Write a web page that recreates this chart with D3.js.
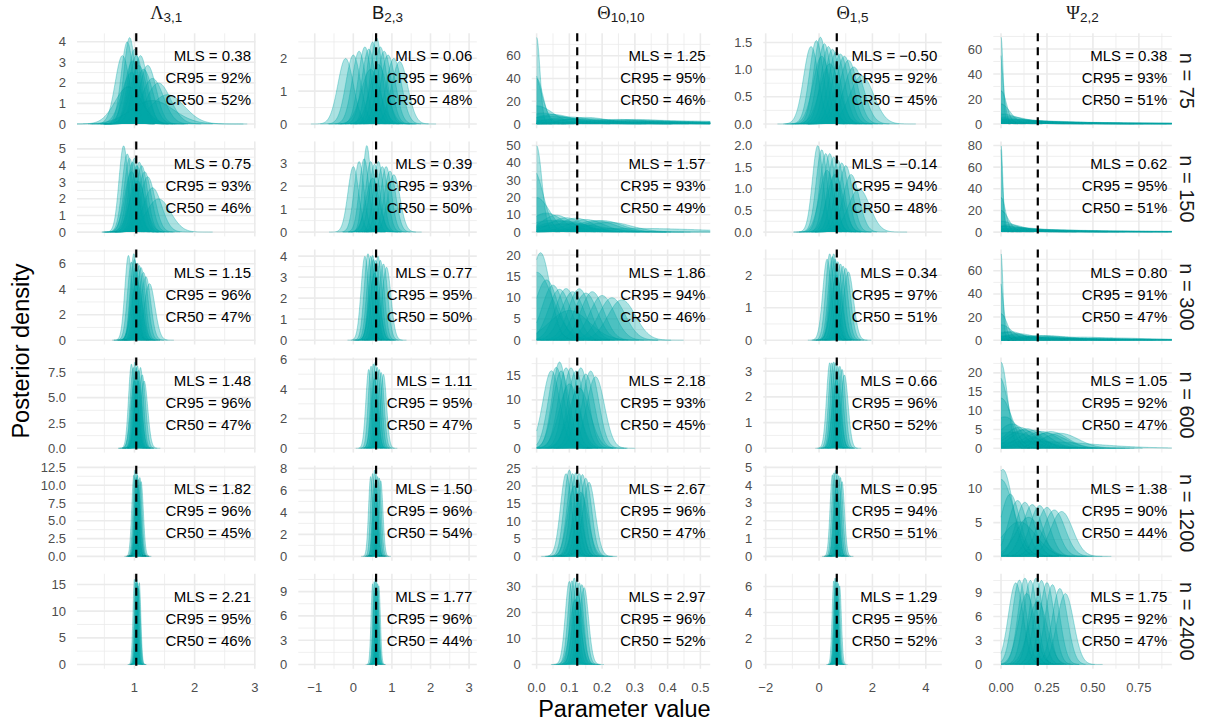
<!DOCTYPE html>
<html>
<head>
<meta charset="utf-8">
<script src="https://cdn.jsdelivr.net/npm/d3@7"></script>
<style>
body { margin: 0; background: #fff; }
text { font-family: "Liberation Sans", Arial, sans-serif; }
</style>
</head>
<body>
<script>
// columns = parameters, rows = sample sizes
const paramNames = ["Λ", "B", "Θ", "Θ", "Ψ"];
const paramSubs = ["3,1", "2,3", "10,10", "1,5", "2,2"];
const greekParam = [true, false, true, true, true];
const sampleSizes = [75, 150, 300, 600, 1200, 2400];
const trueValues = [1.03, 0.59, 0.124, 0.664, 0.2];
const lowerBounds = [null, null, 0, null, 0];

// x scales per column
const xDomains = [[0.045, 3.012], [-1.426, 3.2], [-0.015, 0.53], [-2.09, 4.6], [-0.042, 0.929]];
const xTickLabels = [
	["1", "2", "3"],
	["-1", "0", "1", "2", "3"],
	["0.0", "0.1", "0.2", "0.3", "0.4", "0.5"],
	["-2", "0", "2", "4"],
	["0.00", "0.25", "0.50", "0.75"]
];

// highest density in each panel (row x column)
const yMax = [
	[4.2, 2.63, 75.9, 1.59, 69.1],
	[5.19, 3.76, 49.9, 1.995, 79.8],
	[6.78, 4.11, 20.3, 2.66, 74.7],
	[8.53, 5.83, 17.85, 3.36, 22.9],
	[12.13, 7.85, 24.5, 4.85, 12.8],
	[16.2, 10.67, 33.2, 6.65, 10.8]
];
const yTickLabels = [
	[["0","1","2","3","4"], ["0","1","2"], ["0","20","40","60"], ["0.0","0.5","1.0","1.5"], ["0","20","40","60"]],
	[["0","1","2","3","4","5"], ["0","1","2","3"], ["0","10","20","30","40","50"], ["0.0","0.5","1.0","1.5","2.0"], ["0","20","40","60","80"]],
	[["0","2","4","6"], ["0","1","2","3","4"], ["0","5","10","15","20"], ["0","1","2"], ["0","20","40","60"]],
	[["0.0","2.5","5.0","7.5"], ["0","2","4","6"], ["0","5","10","15"], ["0","1","2","3"], ["0","5","10","15","20"]],
	[["0.0","2.5","5.0","7.5","10.0","12.5"], ["0","2","4","6","8"], ["0","5","10","15","20","25"], ["0","1","2","3","4","5"], ["0","5","10"]],
	[["0","5","10","15"], ["0","3","6","9"], ["0","10","20","30"], ["0","2","4","6"], ["0","3","6","9"]]
];

// summary statistics
const mls = [
	[0.38, 0.06, 1.25, -0.50, 0.38],
	[0.75, 0.39, 1.57, -0.14, 0.62],
	[1.15, 0.77, 1.86, 0.34, 0.80],
	[1.48, 1.11, 2.18, 0.66, 1.05],
	[1.82, 1.50, 2.67, 0.95, 1.38],
	[2.21, 1.77, 2.97, 1.29, 1.75]
];
const cr95 = [
	[92, 96, 95, 92, 93],
	[93, 93, 93, 94, 95],
	[96, 95, 94, 97, 91],
	[96, 95, 93, 96, 92],
	[96, 96, 96, 94, 90],
	[95, 96, 96, 95, 92]
];
const cr50 = [
	[52, 48, 46, 45, 51],
	[46, 50, 49, 48, 51],
	[47, 50, 46, 51, 47],
	[47, 47, 45, 52, 47],
	[45, 54, 47, 51, 44],
	[46, 44, 52, 52, 47]
];

// posterior location / spread of the replications drawn in each panel
const postMeans = [
	[[0.80,0.88,0.92,0.97,1.00,1.03,1.07,1.10,1.15,1.22,1.30,1.40,1.55,0.95,0.90,1.30],
	 [-0.20,0.00,0.15,0.30,0.40,0.50,0.60,0.70,0.80,0.90,1.05,1.20,0.45,0.65],
	 [0,-0.02,0,0,0.02,0.05,0.10,0.15,0.22,0.30,0.40,0.55,0.70,0.25,0.35,0.45,0.60,0.10,0.05,0.15,0.30],
	 [-0.30,-0.10,0.05,0.20,0.35,0.50,0.65,0.80,0.95,1.10,1.30,1.60,0.40,0.10],
	 [0,-0.02,0,0,0,0.05,0.10,0.20,0.30,0.40,0.60,0,0.80,0.15,0.35,0.10,0.05,0.25]],
	[[0.82,0.88,0.92,0.97,1.00,1.04,1.08,1.12,1.17,1.22,1.30,1.05,0.95,1.40],
	 [0.00,0.15,0.28,0.35,0.45,0.55,0.65,0.75,0.85,0.95,1.05,0.50],
	 [0,-0.01,0,0.03,0.06,0.09,0.12,0.15,0.18,0.22,0.10,0.30,0.05,0.20,0.08],
	 [-0.05,0.10,0.25,0.40,0.55,0.70,0.85,1.00,1.20,1.50,0.30,0.60],
	 [0,-0.02,0,0,0,0.04,0.10,0.20,0.30,0.45,0.60,0,0.80,0.15,0.35,0.10,0.05,0.25]],
	[[0.90,0.95,0.99,1.02,1.05,1.08,1.11,1.15,1.19,1.00,1.04,1.25],
	 [0.30,0.38,0.45,0.52,0.58,0.64,0.70,0.78,0.86,0.55,0.50],
	 [0.012,0.03,0.05,0.07,0.09,0.11,0.13,0.15,0.17,0.20,0.23,0.26,0.10,0],
	 [0.30,0.40,0.50,0.60,0.70,0.80,0.90,1.00,1.10,0.65,0.55],
	 [0,-0.015,0,0,0.02,0.08,0.15,0.22,0.30,0.40,0.55,0.70,0,0.10,0.20,0.30,0.45,0.60,0.05,0.25]],
	[[0.95,0.98,1.01,1.03,1.05,1.07,1.10,1.13,1.00,1.06,1.16],
	 [0.40,0.46,0.52,0.57,0.62,0.67,0.72,0.78,0.55],
	 [0.045,0.06,0.07,0.075,0.09,0.105,0.12,0.135,0.15,0.165,0.18,0.10,0.13],
	 [0.40,0.48,0.55,0.62,0.70,0.78,0.86,0.95,0.65],
	 [0,-0.01,0,0.02,0.06,0.10,0.14,0.18,0.22,0.27,0.32,0.05,0.20,0.12,0.25]],
	[[0.99,1.01,1.03,1.05,1.07,1.09,1.11,1.04,1.06],
	 [0.45,0.50,0.55,0.59,0.63,0.67,0.71,0.57],
	 [0.09,0.10,0.11,0.12,0.13,0.14,0.15,0.16,0.115,0.135],
	 [0.50,0.56,0.62,0.68,0.74,0.80,0.86,0.65],
	 [0.01,0.00,0.05,0.09,0.13,0.17,0.21,0.25,0.29,0.33,0.15,0.10]],
	[[1.00,1.02,1.03,1.04,1.05,1.06,1.08,1.07],
	 [0.50,0.54,0.57,0.60,0.63,0.66,0.56,0.62],
	 [0.100,0.108,0.115,0.122,0.130,0.138,0.145,0.118,0.126],
	 [0.55,0.60,0.64,0.68,0.72,0.77,0.66,0.62],
	 [0.10,0.13,0.16,0.19,0.22,0.25,0.28,0.32,0.35,0.08,0.20,0.14]]
];
const postSds = [
	[[0.12,0.10,0.095,0.13,0.11,0.12,0.14,0.12,0.15,0.14,0.18,0.20,0.28,0.16,0.22,0.35],
	 [0.20,0.19,0.18,0.17,0.175,0.16,0.152,0.17,0.18,0.19,0.20,0.21,0.24,0.22],
	 [0.0105,0.03,0.02,0.05,0.07,0.08,0.07,0.09,0.12,0.15,0.20,0.30,0.40,0.10,0.12,0.15,0.20,0.12,0.06,0.07,0.10],
	 [0.28,0.26,0.25,0.27,0.28,0.29,0.30,0.31,0.32,0.34,0.38,0.45,0.36,0.32],
	 [0.0115,0.025,0.03,0.05,0.10,0.15,0.20,0.30,0.40,0.50,0.60,0.20,0.80,0.20,0.30,0.15,0.10,0.20]],
	[[0.077,0.085,0.09,0.095,0.09,0.10,0.095,0.10,0.11,0.12,0.15,0.13,0.11,0.20],
	 [0.14,0.13,0.125,0.106,0.13,0.135,0.13,0.14,0.14,0.15,0.16,0.17],
	 [0.016,0.03,0.04,0.05,0.045,0.05,0.05,0.055,0.06,0.07,0.10,0.20,0.08,0.06,0.07],
	 [0.20,0.21,0.22,0.22,0.23,0.24,0.25,0.26,0.30,0.40,0.28,0.30],
	 [0.01,0.02,0.025,0.04,0.08,0.12,0.18,0.25,0.35,0.45,0.60,0.15,0.80,0.15,0.25,0.12,0.08,0.18]],
	[[0.06,0.065,0.0588,0.07,0.066,0.068,0.07,0.075,0.08,0.063,0.085,0.09],
	 [0.10,0.097,0.10,0.104,0.105,0.10,0.105,0.11,0.115,0.125,0.099],
	 [0.0295,0.035,0.033,0.034,0.033,0.035,0.033,0.036,0.035,0.038,0.04,0.042,0.06,0.05],
	 [0.16,0.15,0.155,0.16,0.165,0.17,0.175,0.18,0.19,0.20,0.15],
	 [0.0107,0.025,0.035,0.06,0.10,0.12,0.15,0.18,0.22,0.30,0.40,0.50,0.25,0.08,0.10,0.12,0.15,0.20,0.07,0.10]],
	[[0.048,0.05,0.0468,0.05,0.049,0.052,0.05,0.055,0.06,0.06,0.06],
	 [0.075,0.072,0.07,0.0685,0.073,0.075,0.078,0.08,0.085],
	 [0.026,0.024,0.0224,0.025,0.024,0.024,0.025,0.024,0.026,0.025,0.027,0.03,0.032],
	 [0.12,0.12,0.1187,0.12,0.125,0.125,0.13,0.14,0.15],
	 [0.035,0.05,0.06,0.08,0.08,0.08,0.08,0.085,0.09,0.09,0.10,0.15,0.30,0.09,0.10]],
	[[0.035,0.0329,0.036,0.035,0.037,0.036,0.038,0.034,0.04],
	 [0.055,0.053,0.0508,0.053,0.055,0.056,0.058,0.06],
	 [0.017,0.0163,0.017,0.0168,0.017,0.0172,0.018,0.019,0.02,0.022],
	 [0.087,0.085,0.0823,0.086,0.088,0.09,0.095,0.10],
	 [0.054,0.07,0.052,0.05,0.05,0.052,0.053,0.055,0.058,0.06,0.07,0.09]],
	[[0.025,0.026,0.0246,0.025,0.026,0.027,0.026,0.028],
	 [0.04,0.039,0.0374,0.039,0.04,0.041,0.045,0.044],
	 [0.0125,0.0124,0.012,0.0125,0.0127,0.013,0.0135,0.016,0.015],
	 [0.062,0.06,0.06,0.062,0.064,0.066,0.07,0.068],
	 [0.038,0.037,0.038,0.037,0.038,0.039,0.04,0.042,0.045,0.04,0.05,0.045]]
];

// layout
const panelLeft = [77, 298.3, 531.7, 763.3, 993.3];
const panelW = 178.5, panelH = 95;
const rowTop0 = 33.3, rowStep = 108.1;
const teal = "#00A6A6";
const gridColor = "#EBEBEB";
const minus = s => s.replace("-", "\u2212");

// normal cdf (Abramowitz-Stegun)
function normCdf(z) {
	const t = 1 / (1 + 0.2316419 * Math.abs(z));
	const d = 0.3989423 * Math.exp(-z * z / 2);
	const p = d * t * (0.3193815 + t * (-0.3565638 + t * (1.781478 + t * (-1.821256 + t * 1.330274))));
	return z > 0 ? 1 - p : p;
}

// density points of one posterior (normal, truncated at the lower bound if any)
function densityPoints(mu, sd, lo, dom) {
	let a = Math.max(mu - 4.5 * sd, dom[0] - 0.1 * (dom[1] - dom[0]));
	let b = Math.min(mu + 4.5 * sd, dom[1] + 0.1 * (dom[1] - dom[0]));
	let norm = 1;
	if (lo !== null) {
		a = Math.max(a, lo);
		norm = 1 - normCdf((lo - mu) / sd);
	}
	const n = 240, pts = [];
	for (let i = 0; i <= n; i++) {
		const x = a + (b - a) * i / n;
		const z = (x - mu) / sd;
		pts.push([x, 0.3989423 * Math.exp(-z * z / 2) / sd / norm]);
	}
	return pts;
}

function minorBreaks(ticks, dom) {
	const step = ticks[1] - ticks[0], out = [];
	for (let i = -1; i < ticks.length; i++) {
		const m = ticks[0] + (i + 0.5) * step;
		if (m >= dom[0] && m <= dom[1]) out.push(m);
	}
	return out;
}

var svg = d3.select("body")
	.append("svg")
	.attr("width", 1211)
	.attr("height", 728)
	.style("background", "#fff");

sampleSizes.forEach((n, r) => {
	paramNames.forEach((p, c) => {
		const x0 = panelLeft[c], y0 = rowTop0 + r * rowStep;
		const M = yMax[r][c];
		const x = d3.scaleLinear().domain(xDomains[c]).range([0, panelW]);
		const y = d3.scaleLinear().domain([-0.05 * M, 1.05 * M]).range([panelH, 0]);
		const xTicks = xTickLabels[c].map(Number);
		const yTicks = yTickLabels[r][c].map(Number);

		const g = svg.append("g").attr("transform", `translate(${x0},${y0})`);

		// grid: minor then major
		g.selectAll(".ymin").data(minorBreaks(yTicks, y.domain())).join("line")
			.attr("x1", 0).attr("x2", panelW)
			.attr("y1", d => y(d)).attr("y2", d => y(d))
			.attr("stroke", gridColor).attr("stroke-width", 0.8);
		g.selectAll(".xmin").data(minorBreaks(xTicks, x.domain())).join("line")
			.attr("y1", 0).attr("y2", panelH)
			.attr("x1", d => x(d)).attr("x2", d => x(d))
			.attr("stroke", gridColor).attr("stroke-width", 0.8);
		g.selectAll(".ymaj").data(yTicks).join("line")
			.attr("x1", 0).attr("x2", panelW)
			.attr("y1", d => y(d)).attr("y2", d => y(d))
			.attr("stroke", gridColor).attr("stroke-width", 1.6);
		g.selectAll(".xmaj").data(xTicks).join("line")
			.attr("y1", 0).attr("y2", panelH)
			.attr("x1", d => x(d)).attr("x2", d => x(d))
			.attr("stroke", gridColor).attr("stroke-width", 1.6);

		// clip for the curves
		const clipId = `clip-${r}-${c}`;
		g.append("clipPath").attr("id", clipId)
			.append("rect").attr("width", panelW).attr("height", panelH);

		const curves = postMeans[r][c].map((mu, i) =>
			densityPoints(mu, postSds[r][c][i], lowerBounds[c], xDomains[c]));

		const area = d3.area().x(d => x(d[0])).y0(y(0)).y1(d => y(d[1]));
		const line = d3.line().x(d => x(d[0])).y(d => y(d[1]));

		const cg = g.append("g").attr("clip-path", `url(#${clipId})`);
		cg.selectAll(".fill").data(curves).join("path")
			.attr("d", area)
			.attr("fill", teal)
			.attr("fill-opacity", 0.33);
		cg.selectAll(".ln").data(curves).join("path")
			.attr("d", line)
			.attr("fill", "none")
			.attr("stroke", teal)
			.attr("stroke-opacity", 0.35)
			.attr("stroke-width", 1);

		// true value
		g.append("line")
			.attr("x1", x(trueValues[c])).attr("x2", x(trueValues[c]))
			.attr("y1", 0).attr("y2", panelH)
			.attr("stroke", "#000")
			.attr("stroke-width", 2.2)
			.attr("stroke-dasharray", "8,6");

		// y tick labels
		g.selectAll(".yl").data(yTickLabels[r][c]).join("text")
			.attr("x", -11)
			.attr("y", d => y(+d))
			.attr("dy", "0.35em")
			.attr("text-anchor", "end")
			.attr("font-size", 13)
			.attr("fill", "#4D4D4D")
			.text(d => minus(d));

		// annotation
		const lines = [
			"MLS = " + d3.format(".2f")(mls[r][c]),
			"CR95 = " + cr95[r][c] + "%",
			"CR50 = " + cr50[r][c] + "%"
		];
		g.selectAll(".ann").data(lines).join("text")
			.attr("x", panelW - 4.5)
			.attr("y", (d, i) => 28 + i * 22)
			.attr("text-anchor", "end")
			.attr("font-size", 15)
			.attr("fill", "#000")
			.text(d => d);

		// x tick labels on bottom row
		if (r === sampleSizes.length - 1) {
			g.selectAll(".xl").data(xTickLabels[c]).join("text")
				.attr("x", d => x(+d))
				.attr("y", panelH + 23.4)
				.attr("text-anchor", "middle")
				.attr("font-size", 13)
				.attr("fill", "#4D4D4D")
				.text(d => minus(d));
		}

		// column strip
		if (r === 0) {
			const t = g.append("text")
				.attr("x", panelW / 2)
				.attr("y", -14.5)
				.attr("text-anchor", "middle")
				.attr("fill", "#1A1A1A");
			t.append("tspan")
				.style("font-family", greekParam[c] ? "'Liberation Serif', 'DejaVu Serif', serif" : null)
				.attr("font-size", 18.5)
				.text(p);
			t.append("tspan")
				.attr("font-size", 13.5)
				.attr("dy", 3.5)
				.text(paramSubs[c]);
		}

		// row strip
		if (c === paramNames.length - 1) {
			svg.append("text")
				.attr("transform", `translate(${x0 + panelW + 15},${y0 + panelH / 2}) rotate(90)`)
				.attr("text-anchor", "middle")
				.attr("dy", "0.35em")
				.attr("font-size", 20)
				.attr("fill", "#1A1A1A")
				.text("n = " + n);
		}
	});
});

// axis titles
svg.append("text")
	.attr("x", (panelLeft[0] + panelLeft[4] + panelW) / 2)
	.attr("y", 717)
	.attr("text-anchor", "middle")
	.attr("font-size", 23.5)
	.attr("fill", "#000")
	.text("Parameter value");

svg.append("text")
	.attr("transform", `translate(29,${rowTop0 + (5 * rowStep + panelH) / 2}) rotate(-90)`)
	.attr("text-anchor", "middle")
	.attr("font-size", 23.5)
	.attr("fill", "#000")
	.text("Posterior density");
</script>
</body>
</html>
